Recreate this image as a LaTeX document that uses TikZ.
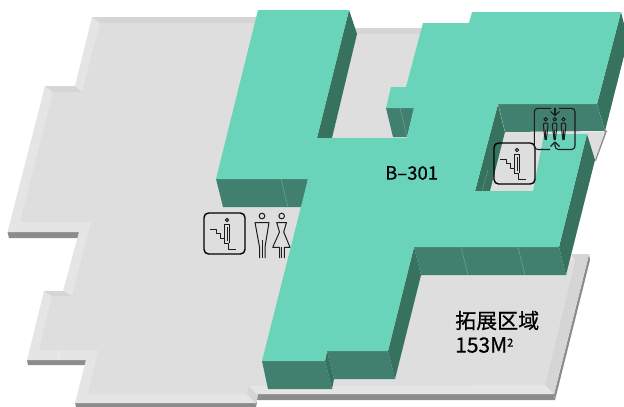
\documentclass[tikz,border=0pt]{standalone}
\usepackage{fontspec}
\setmainfont[FakeBold=0.6]{Noto Sans CJK SC}
\definecolor{floorc}{HTML}{DEDEDE}
\definecolor{bevl}{HTML}{E5E5E5}
\definecolor{bevd}{HTML}{D5D5D5}
\definecolor{edgec}{HTML}{8C8C8C}
\definecolor{teal1}{HTML}{69D4B9}
\definecolor{front}{HTML}{417F6F}
\definecolor{side}{HTML}{37725F}
\definecolor{ink}{HTML}{1C1C1C}
\tikzset{
  f/.style={fill=#1,draw=none},
  seam/.style={draw=white,draw opacity=.3,line width=.4pt},
  icon/.style={draw=ink,line width=1pt,line join=round,fill=none},
  iconbox/.style={draw=black,line width=1.4pt,rounded corners=4.5pt,fill=none},
  lab/.style={inner sep=0pt,text=black,anchor=west}
}
\begin{document}
\begin{tikzpicture}[x=1pt,y=-1pt]
\useasboundingbox (0,0) rectangle (624,407);
\clip (0,0) rectangle (624,407);
% floor edge (dark sides)
\fill[f=edgec] (7.5,232)--(79,232)--(79,238)--(9,238)--cycle;
\fill[f=edgec] (27,360)--(86,360)--(85,365)--(28,365)--cycle;
\fill[f=edgec] (75,402)--(257,402)--(256,407)--(76,407)--cycle;
\fill[f=edgec] (257,394)--(554,394)--(555,400)--(257,400)--cycle;
\fill[f=edgec] (589,254)--(590,260)--(555,400)--(554,394)--cycle;
% floor outer (bevel)
\fill[f=bevl] (92,17)--(300,17)--(300,28)--(430,28)--(430,254)--(589,254)--(554,394)--(258,394)--(256,403)--(75,403)--(86,360)--(27,360)--(44,291)--(63,291)--(79,232)--(7.5,232)--(45,86)--(75,86)--cycle;
% darker bevels
\fill[f=bevd] (92,17)--(300,17)--(300,23)--(100,23)--cycle;
\fill[f=bevd] (340,28)--(430,28)--(430,34)--(340,34)--cycle;
\fill[f=bevd] (45,86)--(75,86)--(82,92)--(53,92)--cycle;
\fill[f=bevd] (44,291)--(63,291)--(72,296)--(52,296)--cycle;
\fill[f=bevd] (572,254)--(589,254)--(554,394)--(545,385)--(575,261)--cycle;
\fill[f=bevd] (248,386)--(258,395)--(256,404)--(247,394)--cycle;
% floor
\fill[f=floorc] (100,23)--(82,92)--(53,92)--(20,222)--(91,222)--(72,296)--(52,296)--(39,350)--(98,350)--(88,394)--(247,394)--(248,386)--(545,385)--(575,261)--(420,261)--(420,34)--(340,34)--(340,23)--cycle;
\draw[seam] (58,350)--(58,360);
% floor patch in the courtyard
\fill[f=edgec] (605,130)--(607,131)--(596,161)--(594,160)--cycle;
\fill[f=floorc] (505,132)--(605,132)--(595,160)--(570,170)--(540,191)--(490,191)--cycle;
% dark faces
\fill[f=front] (216,179)--(308,179)--(302,207)--(223,207)--cycle;
\draw[seam] (281,179)--(288,207);
\fill[f=front] (262,361)--(325,361)--(332,389)--(268,389)--cycle;
\fill[f=front] (327,351)--(388,351)--(395,379)--(334,379)--cycle;
\fill[f=side] (327,351)--(334,379)--(332,389)--(325,361)--cycle;
\fill[f=side] (388,351)--(395,379)--(421,275)--(414,247)--cycle;
\fill[f=front] (414,247)--(559,247)--(566,275)--(421,275)--cycle;
\draw[seam] (461,247)--(468,275);
\draw[seam] (518,247)--(525,275);
\fill[f=side] (349,10)--(357,34)--(332,138)--(317,138)--cycle;
\fill[f=front] (386,108)--(414,108)--(407,137)--(393,137)--cycle;
\draw[seam] (400,108)--(407,137);
\fill[f=front] (498,104)--(597,104)--(605,131)--(505,132)--cycle;
\fill[f=side] (498,104)--(505,132)--(490,191)--(475,191)--cycle;
\draw[seam] (498,104)--(505,132);
\draw[seam] (597,104)--(605,131);
\draw[seam] (488,170)--(482,191);
\fill[f=side] (621,12)--(628,40)--(605,131)--(597,104)--cycle;
\fill[f=side] (587,134)--(595,160)--(566,275)--(559,247)--cycle;
% teal top
\fill[f=teal1] (258,10)--(349,10)--(317,138)--(407,138)--(414,108)--(400,108)--(386,108)--(391,87)--(406,87)--(423,23)--(469,23)--(472,12)--(621,12)--(597,104)--(498,104)--(475,191)--(533,191)--(544,134)--(587,134)--(559,247)--(414,247)--(388,351)--(327,351)--(325,361)--(262,361)--(308,179)--(216,179)--cycle;
% stair icons
\foreach \bx/\by in {204/213,494/143}{
\begin{scope}[shift={(\bx,\by)}]
  \draw[iconbox] (0,0) rectangle (41,41);
  \draw[icon] (6,16)--(12,16)--(12,20)--(16,20)--(16,25)--(20,25)--(20,30)--(24,30)--(24,36)--(32,36);
  \draw[icon] (23,7) circle (1.7);
  \draw[icon] (20.5,25)--(20.5,11)--(25.5,11)--(25.5,30);
  \draw[icon] (23,14)--(23,28);
\end{scope}}
% toilets
\draw[icon] (262,216) circle (2.8);
\draw[icon] (259.5,258)--(259.5,247)--(255,222.5)--(269,222.5)--(265,247)--(265,258);
\draw[icon] (262.3,240)--(262.3,258);
\draw[icon] (281.7,216) circle (2.8);
\draw[icon] (279.5,258)--(279.5,247.3)--(272.7,247.3)--(279.5,232)--(276.7,222.5)--(286.5,222.5)--(283.7,232)--(290,247.3)--(284.3,247.3)--(284.3,258);
\draw[icon] (281.8,247.3)--(281.8,258);
% lift icon
\draw[icon,line width=1.1pt,rounded corners=3.5pt] (551,108.3)--(534.3,108.3)--(534.3,149.5)--(550,149.5);
\draw[icon,line width=1.1pt,rounded corners=3.5pt] (559,108.3)--(575,108.3)--(575,149.5)--(555,149.5)--(555,142);
\draw[icon,line width=1.1pt] (555,108.3)--(555,115);
\draw[icon,line width=1.1pt] (550.5,111.5)--(555,115.5)--(559.5,111.5);
\draw[icon,line width=1.1pt] (550.5,146.5)--(555,142)--(559.5,146.5);
\foreach \px in {545.7,554.7,563.5}{
  \draw[icon] (\px,119.3) circle (1.7);
  \draw[icon,rounded corners=1pt] (\px-.6,140)--(\px-2.4,125)--(\px-2,123)--(\px+2,123)--(\px+2.4,125)--(\px+.6,140);
  \draw[icon] (\px,130)--(\px,140);
}
% labels
\node[lab,font=\fontsize{18.5}{18.5}\selectfont] (room) at (385,173) {B–301};
\node[lab,font=\fontsize{21}{21}\selectfont] (areaname) at (455,320.5) {拓展区域};
\node[lab,font=\fontsize{21}{21}\selectfont] (areasize) at (455,345) {153M\raisebox{6pt}{\fontsize{11}{11}\selectfont 2}};
\end{tikzpicture}
\end{document}
